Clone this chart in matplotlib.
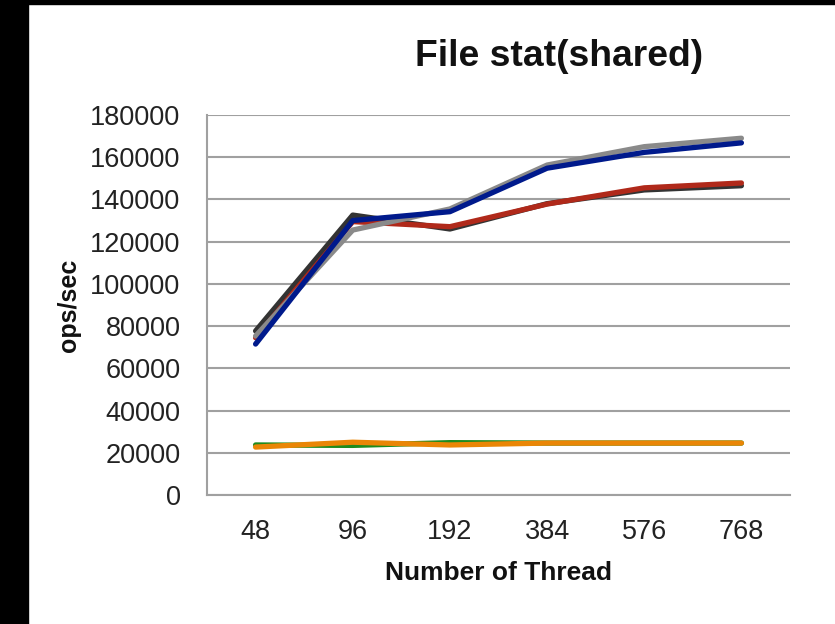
import matplotlib
matplotlib.use("Agg")
import matplotlib.pyplot as plt
from matplotlib.patches import Rectangle

threads = ["48", "96", "192", "384", "576", "768"]
s_black = [77700, 132600, 126000, 138000, 144500, 146500]
s_red = [74500, 129500, 127100, 137800, 145500, 147800]
s_gray = [75300, 125500, 135500, 156300, 165000, 169000]
s_blue = [71500, 130000, 134200, 154800, 162300, 166800]
s_green = [23700, 23500, 24800, 24600, 24600, 24600]
s_orange = [22700, 25000, 23700, 24600, 24600, 24600]
yticks = [0, 20000, 40000, 60000, 80000, 100000, 120000, 140000, 160000, 180000]

plt.rcParams['font.family'] = ['Liberation Sans', 'DejaVu Sans']

fig = plt.figure(figsize=(8.35, 6.24), dpi=100, facecolor='white')
fig.patches.append(Rectangle((0, 0), 28/835, 1, transform=fig.transFigure, color='black', zorder=0))
fig.patches.append(Rectangle((0, 1-4/624), 1, 4/624, transform=fig.transFigure, color='black', zorder=0))

ax = fig.add_axes([207/835, 1-495/624, (790-207)/835, (495-115)/624])
x = list(range(len(threads)))
series = [(s_black, '#333333'), (s_red, '#B0291A'), (s_gray, '#8A8A8A'),
          (s_blue, '#001A8C'), (s_green, '#1E8B1E'), (s_orange, '#EA8606')]
for i, (vals, c) in enumerate(series):
    ax.plot(x, vals, color=c, lw=3.8, solid_capstyle='round', solid_joinstyle='round', zorder=3+i)

ax.set_xlim(-0.5, 5.5)
ax.set_ylim(0, 180000)
ax.set_yticks(yticks)
ax.set_yticklabels([str(v) for v in yticks])
ax.set_xticks(x)
ax.set_xticklabels(threads)
ax.yaxis.grid(True, color='#A0A0A0', lw=1.5)
ax.set_axisbelow(True)
for s in ['top', 'right']:
    ax.spines[s].set_visible(False)
for s in ['left', 'bottom']:
    ax.spines[s].set_color('#A0A0A0')
    ax.spines[s].set_linewidth(1.5)
ax.tick_params(axis='both', length=0, labelsize=19.5, colors='#222222')
ax.tick_params(axis='y', pad=19)
ax.tick_params(axis='x', pad=17)
ax.set_ylabel('ops/sec', fontsize=18, fontweight='bold', color='#111111', labelpad=7)
ax.set_xlabel('Number of Thread', fontsize=19, fontweight='bold', color='#111111', labelpad=12)
fig.text(559/835, 1-57/624, 'File stat(shared)', fontsize=26.8, fontweight='bold', ha='center', va='center', color='#111111')

fig.savefig('out.png', dpi=100, facecolor=fig.get_facecolor())
